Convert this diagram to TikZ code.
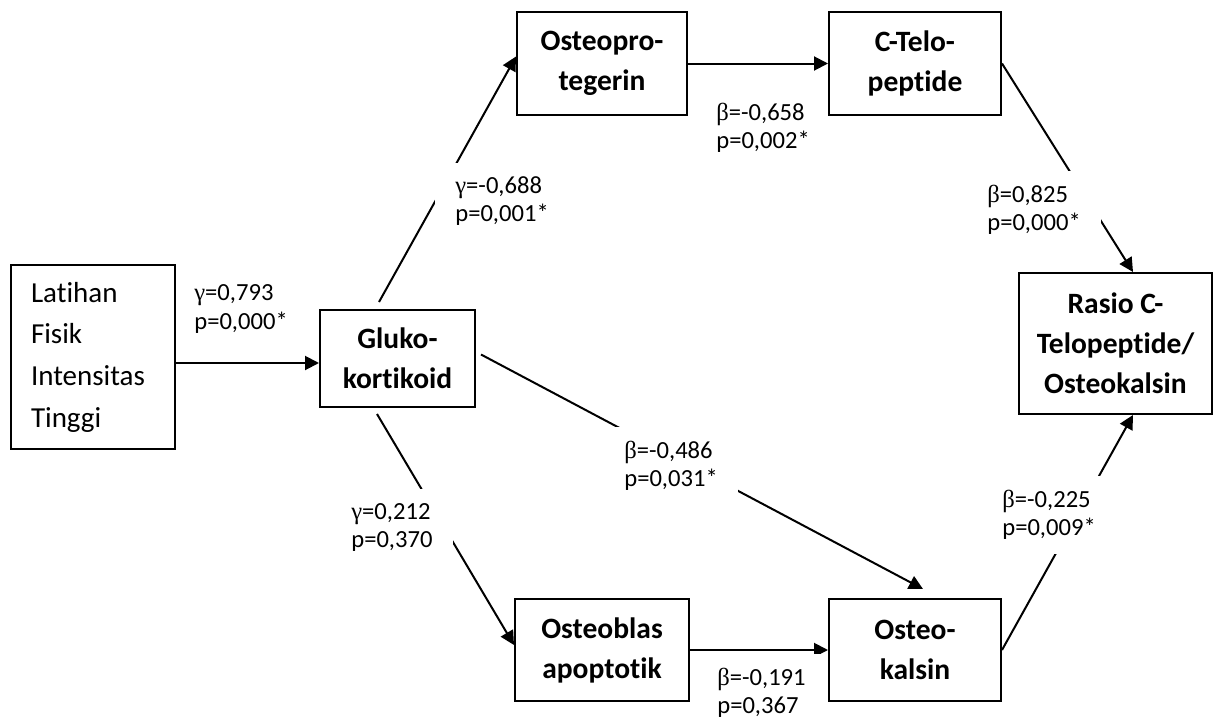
\documentclass[tikz,border=0pt]{standalone}
\usepackage{fontspec}
\setmainfont{Carlito}[Ligatures={NoCommon,NoContextual}]
\newfontfamily\grk{Liberation Serif}
\usetikzlibrary{arrows.meta}

\begin{document}
\begin{tikzpicture}[
	box/.style={draw, line width = 0.4mm, align=center, inner sep=0pt, font=\bfseries\fontsize{16.8}{22.8}\selectfont},
	coef/.style={fill=white, anchor=west, align=left, inner xsep=0.4cm, inner ysep=0.28cm, font=\fontsize{14}{16}\selectfont},
	arr/.style={line width = 0.4mm, -{Triangle[length=0.28cm,width=0.28cm]}}
	]
	
	\useasboundingbox (0,0) rectangle (24.58,-14.4);
	
	\node[draw, line width = 0.4mm, minimum width=3.28cm, minimum height=3.68cm, text width=2.48cm, inner xsep=0.4cm, align=left, font=\fontsize{16.5}{23.7}\selectfont] (lat) at (1.86,-7.14) {Latihan\\Fisik\\Intensitas\\Tinggi};
	\node[box, minimum width=3.1cm, minimum height=1.94cm] (gluko) at (7.95,-7.17) {Gluko-\\kortikoid};
	\node[box, minimum width=3.4cm, minimum height=2.06cm] (opg) at (12.04,-1.27) {Osteopro-\\tegerin};
	\node[box, minimum width=3.44cm, minimum height=2.06cm] (ctx) at (18.3,-1.27) {C-Telo-\\peptide};
	\node[box, minimum width=3.86cm, minimum height=2.82cm] (rasio) at (22.31,-6.87) {Rasio C-\\Telopeptide/\\Osteokalsin};
	\node[box, minimum width=3.48cm, minimum height=2.04cm] (obl) at (12.04,-13.0) {Osteoblas\\apoptotik};
	\node[box, minimum width=3.44cm, minimum height=2.04cm] (ocn) at (18.3,-13.0) {Osteo-\\kalsin};
	
	\draw[arr] ([yshift=-0.12cm]lat.east) -- ([yshift=-0.12cm]lat.east -| gluko.west);
	\draw[arr] ([xshift=-0.37cm,yshift=0.14cm]gluko.north) -- ([yshift=0.14cm]opg.west);
	\draw[arr] (opg.east) -- (ctx.west);
	\draw[arr] (ctx.east) -- ([xshift=0.35cm]rasio.north);
	\draw[arr] ([xshift=0.1cm,yshift=0.08cm]gluko.east) -- ([xshift=0.16cm,yshift=0.18cm]ocn.north);
	\draw[arr] ([xshift=-0.41cm,yshift=-0.12cm]gluko.south) -- ([yshift=0.1cm]obl.west);
	\draw[arr] (obl.east) -- (ocn.west);
	\draw[arr] (ocn.east) -- ([xshift=0.35cm]rasio.south);
	
	\node[coef, fill=none] (c1) at (3.48,-6.18) {{\grk γ}=0,793\\p=0,000*};
	\node[coef] (c2) at (8.7,-4.02) {{\grk γ}=-0,688\\p=0,001*};
	\node[coef, fill=none] (c3) at (13.92,-2.55) {{\grk β}=-0,658\\p=0,002*};
	\node[coef] (c4) at (19.34,-4.2) {{\grk β}=0,825\\p=0,000*};
	\node[coef] (c5) at (12.08,-9.32) {{\grk β}=-0,486\\p=0,031*};
	\node[coef] (c6) at (6.62,-10.55) {{\grk γ}=0,212\\p=0,370};
	\node[coef] (c7) at (19.64,-10.3) {{\grk β}=-0,225\\p=0,009*};
	\node[coef] (c8) at (13.94,-13.86) {{\grk β}=-0,191\\p=0,367};
	
\end{tikzpicture}
\end{document}
